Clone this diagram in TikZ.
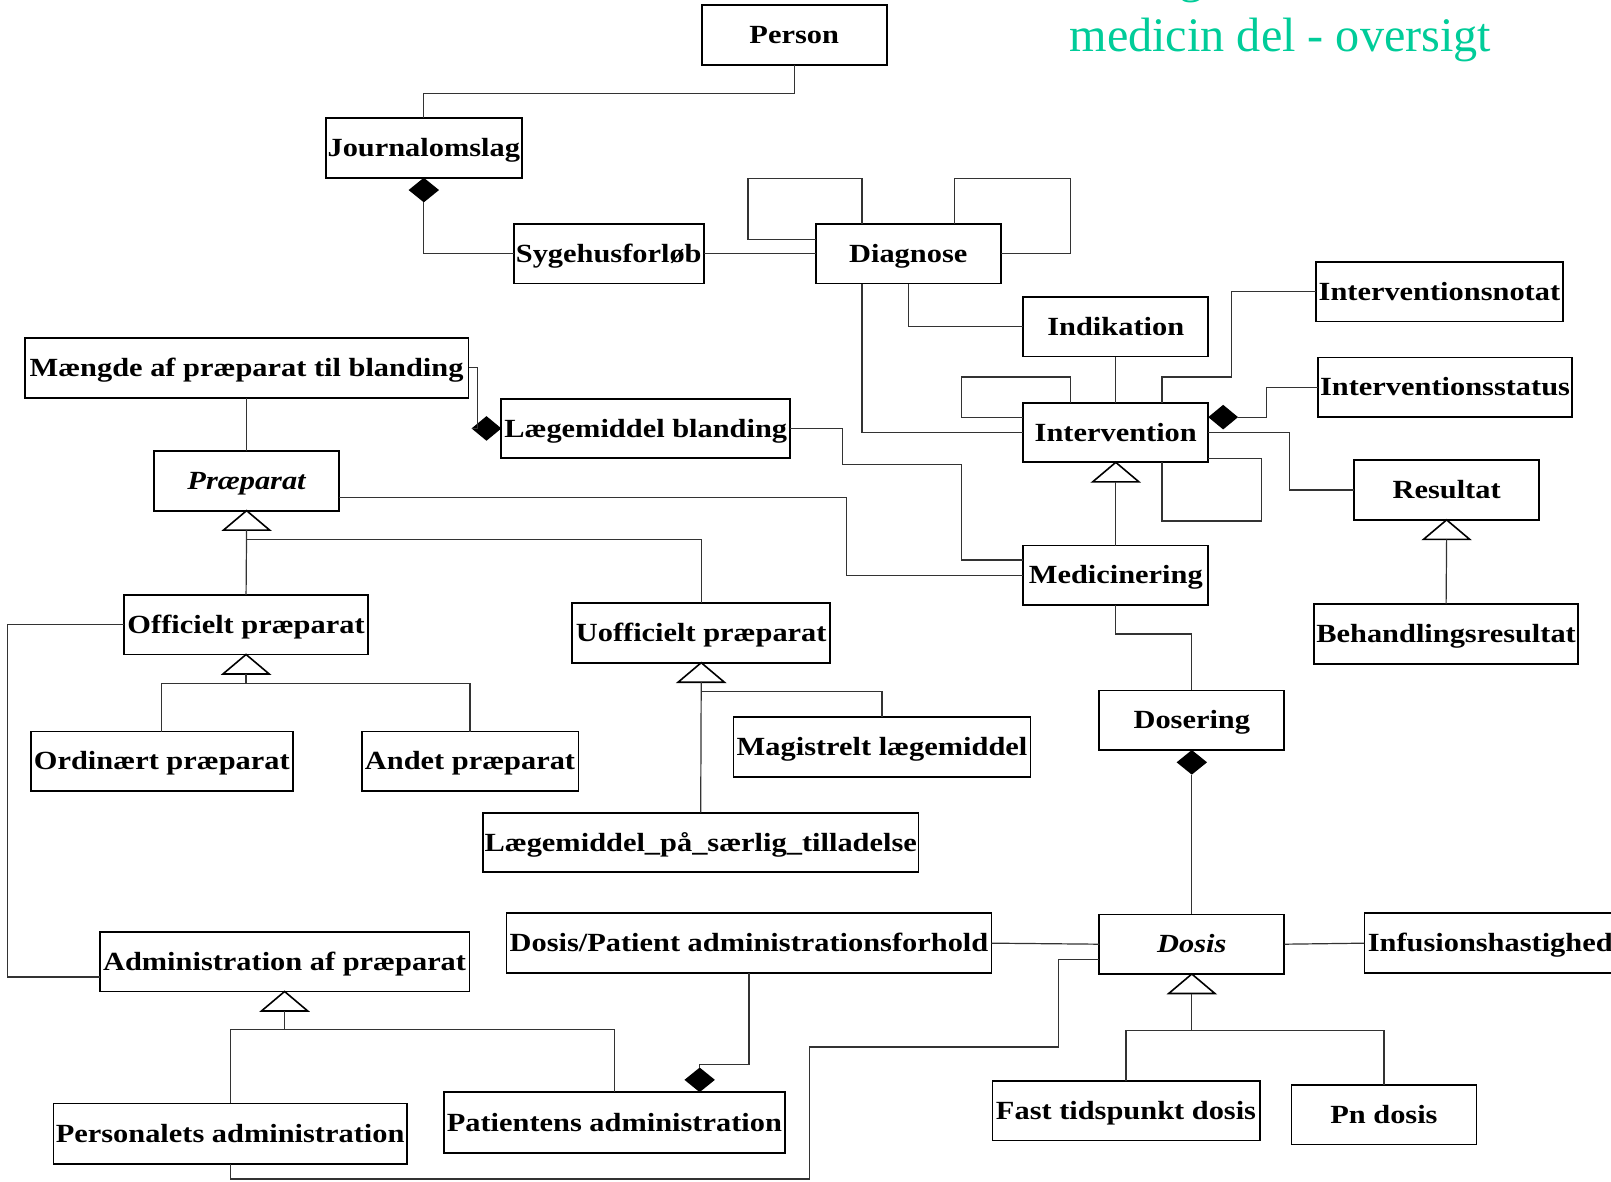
\documentclass[tikz,border=0pt]{standalone}
\usepackage{fontspec}
\setmainfont{Liberation Serif}
\newfontfamily\boxfont{Liberation Serif}[FakeStretch=1.16]
\usetikzlibrary{shapes.geometric,calc}
\definecolor{titlecol}{RGB}{0,204,153}
\tikzset{
 box/.style={draw=black, line width=0.9pt, fill=white, inner sep=0pt, outer sep=0pt,
   font=\boxfont\bfseries\fontsize{13.1}{15}\selectfont, text height=8.6pt, text depth=0pt},
 conn/.style={draw=black!80, line width=0.6pt},
 dia/.style={diamond, fill=black, draw=none, inner sep=0pt, outer sep=0pt, minimum width=15.2pt, minimum height=12.3pt},
 tri/.style={draw=black, line width=0.8pt, fill=white, line join=miter},
 ttl/.style={anchor=base west, inner sep=0pt, outer sep=0pt, text=titlecol, font=\fontsize{24.1}{28}\selectfont}
}
\newcommand\umlbox[6]{\node[box, minimum width={(#4-#2)*0.5137pt}, minimum height={(#5-#3)*0.5137pt}] (#1) at ({(#2+#4)/2},{(#3+#5)/2}) {#6};}
\newcommand\gentri[2]{\draw[tri] (#1) -- ++(22.5,19) -- ++(-45,0) -- cycle; \path (#1) ++(0,19) coordinate (#2);}
\begin{document}
\begin{tikzpicture}[x=0.5137pt,y=-0.5137pt]
\useasboundingbox (0,0) rectangle (1568,1150);
% title
\node[ttl] (titleprev) at (1147.6,-7) {g};
\node[ttl] (title) at (1041,50.3) {medicin del - oversigt};
% boxes
\umlbox{person}{683}{5}{863}{63}{Person}
\umlbox{journal}{317}{115}{508}{173}{Journalomslag}
\umlbox{syge}{500}{218}{685}{276}{Sygehusforløb}
\umlbox{diag}{794}{218}{974}{276}{Diagnose}
\umlbox{indik}{996}{289}{1176}{347}{Indikation}
\umlbox{inotat}{1281}{255}{1521}{313}{Interventionsnotat}
\umlbox{istatus}{1283}{348}{1530}{406}{Interventionsstatus}
\umlbox{interv}{996}{392}{1176}{450}{Intervention}
\umlbox{result}{1318}{448}{1498}{506}{Resultat}
\umlbox{maengde}{24}{329}{456}{387}{Mængde af præparat til blanding}
\umlbox{lblanding}{488}{388}{769}{446}{Lægemiddel blanding}
\umlbox{praep}{150}{439}{330}{497}{\itshape Præparat}
\umlbox{medic}{996}{531}{1176}{589}{Medicinering}
\umlbox{behand}{1279}{588}{1536}{646}{Behandlingsresultat}
\umlbox{offic}{121}{579}{358}{637}{Officielt præparat}
\umlbox{uoffic}{557}{587}{808}{645}{Uofficielt præparat}
\umlbox{ordin}{30}{712}{285}{770}{Ordinært præparat}
\umlbox{andet}{352}{712}{563}{770}{Andet præparat}
\umlbox{magist}{714}{698}{1003}{756}{Magistrelt lægemiddel}
\umlbox{doser}{1070}{672}{1250}{730}{Dosering}
\umlbox{saerlig}{470}{791}{894}{849}{Lægemiddel\_på\_særlig\_tilladelse}
\umlbox{dpadm}{493}{889}{965}{947}{Dosis/Patient administrationsforhold}
\umlbox{dosis}{1070}{890}{1250}{948}{\itshape Dosis}
\umlbox{infus}{1328}{889}{1573}{947}{Infusionshastighed}
\umlbox{adm}{97}{907}{457}{965}{Administration af præparat}
\umlbox{fast}{966}{1052}{1226}{1110}{Fast tidspunkt dosis}
\umlbox{pn}{1257}{1056}{1437}{1114}{Pn dosis}
\umlbox{pers}{52}{1074}{396}{1133}{Personalets administration}
\umlbox{patient}{432}{1063}{764}{1122}{Patientens administration}
% composition diamonds
\node[dia, anchor=north] (d1) at (journal.south) {};
\node[dia, minimum width=14.9pt, anchor=west] (d2) at ($(interv.east)+(0,-15)$) {};
\node[dia, minimum width=14.9pt, anchor=east] (d3) at (lblanding.west) {};
\node[dia, anchor=north] (d4) at (doser.south) {};
\node[dia, anchor=south] (d5) at ($(patient.north)+(83,0)$) {};
% generalization triangles
\gentri{interv.south}{tint}
\gentri{result.south}{tres}
\gentri{praep.south}{tpra}
\gentri{offic.south}{toff}
\gentri{uoffic.south}{tuof}
\gentri{dosis.south}{tdos}
\gentri{adm.south}{tadm}
% connectors
\draw[conn] (person.south) -- ++(0,28) -| (journal.north);
\draw[conn] (d1.south) |- (syge.west);
\draw[conn] (syge.east) -- (diag.west);
\draw[conn] ($(diag.north)+(-45,0)$) -- ++(0,-44) -- ++(-111,0) |- ($(diag.west)+(0,-14)$);
\draw[conn] ($(diag.north)+(45,0)$) -- ++(0,-44) -- ++(113,0) |- (diag.east);
\draw[conn] (diag.south) |- (indik.west);
\draw[conn] ($(diag.south)+(-45,0)$) |- (interv.west);
\draw[conn] (indik.south) -- (interv.north);
\draw[conn] ($(interv.north)+(-44,0)$) -- ++(0,-25) -- ++(-106,0) |- ($(interv.west)+(0,-15)$);
\draw[conn] ($(interv.south)+(45,0)$) -- ++(0,57) -- ++(97,0) |- ($(interv.east)+(0,25)$);
\draw[conn] ($(interv.north)+(45,0)$) -- ++(0,-25) -- ++(68,0) |- (inotat.west);
\draw[conn] (d2.east) -- ++(28,0) |- (istatus.west);
\draw[conn] (interv.east) -- ++(79,0) |- (result.west);
\draw[conn] (tint) -- (medic.north);
\draw[conn] (tres) -- (behand.north);
\draw[conn] (lblanding.east) -- ++(51,0) -- ++(0,35) -- ++(116,0) |- ($(medic.west)+(0,-15)$);
\draw[conn] ($(praep.east)+(0,16)$) -- ++(494,0) |- (medic.west);
\draw[conn] (maengde.east) -- ++(9,0) |- (d3.west);
\draw[conn] (maengde.south) -- (praep.north);
\draw[conn] (tpra) -- (offic.north);
\draw[conn] (tpra) -- ++(0,9) -| (uoffic.north);
\draw[conn] (toff) -- ++(0,9) -| (ordin.north);
\draw[conn] (toff) -- ++(0,9) -| (andet.north);
\draw[conn] (tuof) -- (saerlig.north);
\draw[conn] (tuof) -- ++(0,9) -| (magist.north);
\draw[conn] (offic.west) -- ++(-113.5,0) |- ($(adm.west)+(0,15)$);
\draw[conn] (medic.south) -- ++(0,28) -| (doser.north);
\draw[conn] (d4.south) -- (dosis.north);
\draw[conn] (dpadm.east) -- (dosis.west);
\draw[conn] (dosis.east) -- (infus.west);
\draw[conn] (tdos) -- ++(0,36) -| (fast.north);
\draw[conn] (tdos) -- ++(0,36) -| (pn.north);
\draw[conn] (tadm) -- ++(0,18) -| (pers.north);
\draw[conn] (tadm) -- ++(0,18) -| (patient.north);
\draw[conn] (dpadm.south) -- ++(0,89) -| (d5.north);
\draw[conn] (pers.south) -- ++(0,14.5) -- ++(564,0) -- ++(0,-128.5) -- ++(242,0) |- ($(dosis.west)+(0,15)$);
\end{tikzpicture}
\end{document}
